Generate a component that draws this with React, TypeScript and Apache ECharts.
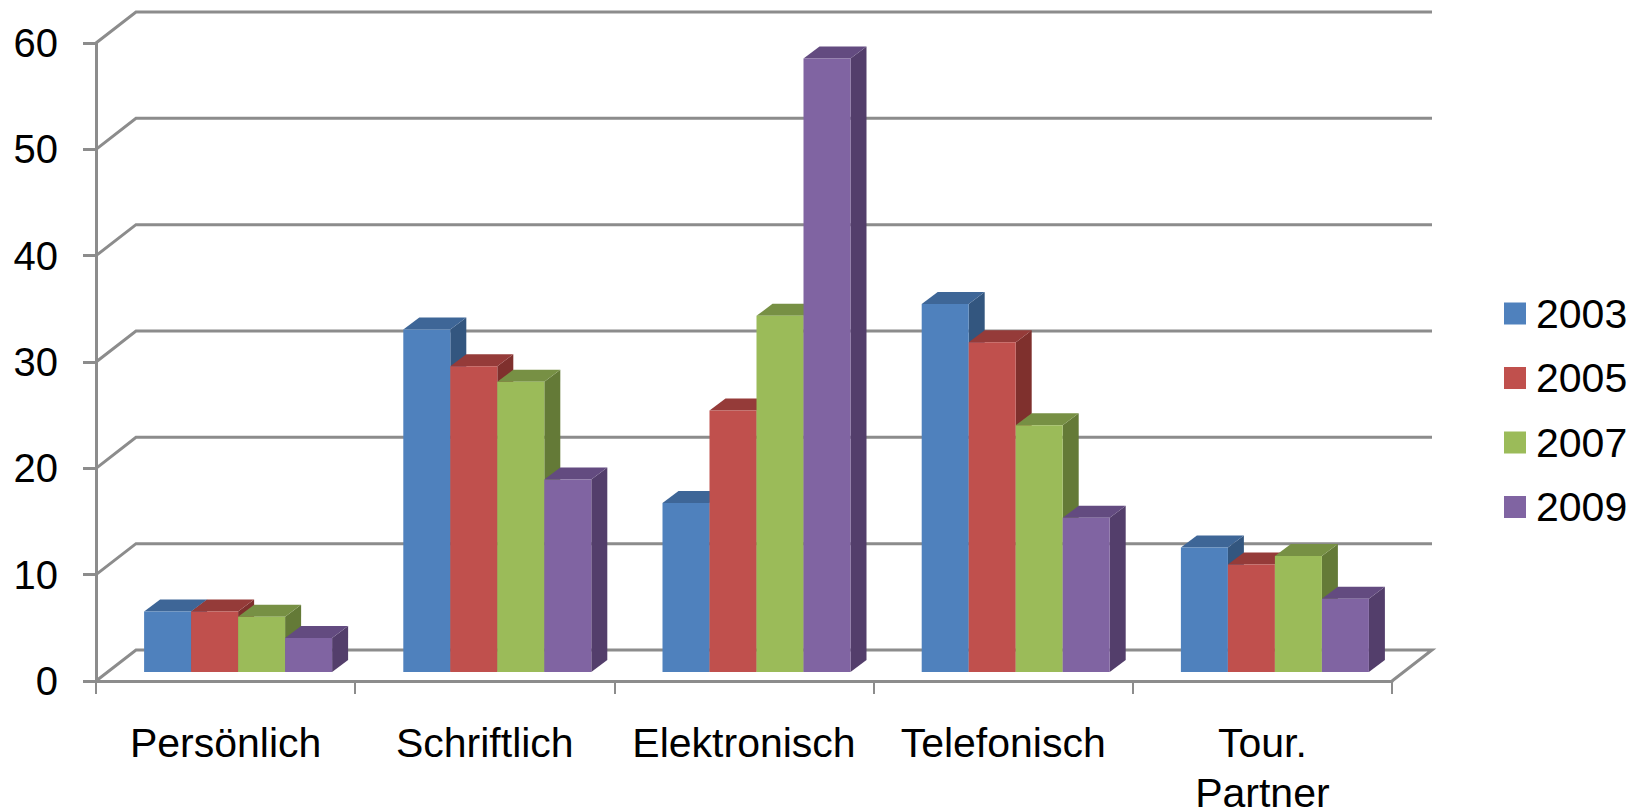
import React, { useEffect, useRef } from "react";
import * as echarts from "echarts";

const categories = ["Persönlich", "Schriftlich", "Elektronisch", "Telefonisch", "Tour.\nPartner"];
const years = ["2003", "2005", "2007", "2009"];
const v2003 = [5.7, 32.2, 15.9, 34.6, 11.7];
const v2005 = [5.7, 28.75, 24.6, 31.0, 10.1];
const v2007 = [5.2, 27.3, 33.5, 23.2, 10.9];
const v2009 = [3.2, 18.1, 57.7, 14.5, 6.9];
const yTicks = [0, 10, 20, 30, 40, 50, 60];
const seriesValues = [v2003, v2005, v2007, v2009];
const fronts = ["#4F81BD", "#C0504D", "#9BBB59", "#8064A2"];
const tops = ["#3E6697", "#953B39", "#779044", "#634B80"];
const sides = ["#33567F", "#7F302D", "#647A37", "#533E6B"];

const FONT = "'Liberation Sans', Arial, sans-serif";
const AXIS = "#8C8C8C";
const WALL_DX = 40, WALL_DY = 31;
const BAR_DX = 16, BAR_DY = 12;
const FLOOR_DX = 12.5, FLOOR_DY = 9;
const BAR_FRACTION = 47 / 259.2;

export default function App() {
  const ref = useRef<HTMLDivElement>(null);
  useEffect(() => {
    const chart = echarts.init(ref.current!, undefined, { renderer: "svg" });
    const wall = {
      type: "custom",
      silent: true,
      z: 1,
      clip: false,
      data: yTicks.map((v) => [0, v]),
      encode: { x: 0, y: 1 },
      renderItem: (params: any, api: any) => {
        const cs = params.coordSys;
        const y = api.coord([0, api.value(1)])[1];
        const pts: number[][] = [
          [cs.x, y],
          [cs.x + WALL_DX, y - WALL_DY],
          [cs.x + cs.width + WALL_DX, y - WALL_DY],
        ];
        if (api.value(1) === 0) pts.push([cs.x + cs.width, y]);
        return {
          type: "polyline",
          shape: { points: pts },
          style: { stroke: AXIS, lineWidth: 3, fill: "none" },
        };
      },
    };
    const bars = years.map((name, si) => ({
      type: "custom",
      name,
      z: 2,
      clip: false,
      itemStyle: { color: fronts[si] },
      data: seriesValues[si].map((v, i) => [i, v]),
      encode: { x: 0, y: 1 },
      renderItem: (_p: any, api: any) => {
        const c = api.coord([api.value(0), api.value(1)]);
        const base = api.coord([api.value(0), 0]);
        const w = api.size([1, 0])[0] * BAR_FRACTION;
        const x0 = c[0] + FLOOR_DX + (si - 2) * w;
        const x1 = x0 + w;
        const yt = c[1] - FLOOR_DY;
        const yb = base[1] - FLOOR_DY;
        return {
          type: "group",
          children: [
            {
              type: "polygon",
              shape: { points: [[x1, yt], [x1 + BAR_DX, yt - BAR_DY], [x1 + BAR_DX, yb - BAR_DY], [x1, yb]] },
              style: { fill: sides[si] },
            },
            {
              type: "polygon",
              shape: { points: [[x0, yt], [x0 + BAR_DX, yt - BAR_DY], [x1 + BAR_DX, yt - BAR_DY], [x1, yt]] },
              style: { fill: tops[si] },
            },
            {
              type: "polygon",
              shape: { points: [[x0, yt], [x1, yt], [x1, yb], [x0, yb]] },
              style: { fill: fronts[si] },
            },
          ],
        };
      },
    }));
    chart.setOption({
      animation: false,
      backgroundColor: "#fff",
      grid: { left: 96, top: 43, width: 1296, height: 638, containLabel: false, outerBoundsMode: "none" },
      legend: {
        show: true,
        orient: "vertical",
        left: 1504,
        top: 293,
        padding: 0,
        data: years,
        icon: "rect",
        itemWidth: 22,
        itemHeight: 22,
        itemGap: 23.5,
        textStyle: { fontFamily: FONT, fontSize: 41, color: "#000", padding: [0, 0, 0, 5], lineHeight: 40 },
      },
      xAxis: {
        type: "category",
        data: categories,
        boundaryGap: true,
        axisLine: { lineStyle: { color: AXIS, width: 3 } },
        axisTick: { show: true, length: 13, lineStyle: { color: AXIS, width: 2 } },
        axisLabel: { color: "#000", fontFamily: FONT, fontSize: 41, margin: 37, lineHeight: 50, interval: 0 },
      },
      yAxis: {
        type: "value",
        min: 0,
        max: 60,
        interval: 10,
        splitLine: { show: false },
        axisLine: { show: true, lineStyle: { color: AXIS, width: 3 } },
        axisTick: { show: true, length: 13, lineStyle: { color: AXIS, width: 3 } },
        axisLabel: { color: "#000", fontFamily: FONT, fontSize: 40, margin: 38 },
      },
      series: [wall, ...bars],
    });
    return () => chart.dispose();
  }, []);
  return (
    <div
      ref={ref}
      style={{ position: "fixed", left: 0, top: 0, width: 1640, height: 812, background: "#fff" }}
    />
  );
}
